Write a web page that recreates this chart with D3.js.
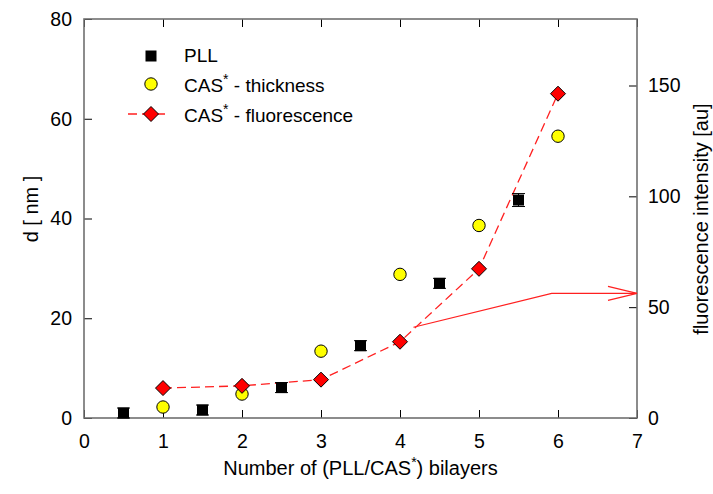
<!DOCTYPE html>
<html>
<head>
<meta charset="utf-8">
<script src="https://cdn.jsdelivr.net/npm/d3@7"></script>
<style>
  body { margin: 0; background: #fff; }
  text { font-family: "Liberation Sans", Arial, sans-serif; fill: #000; }
</style>
</head>
<body>
<svg id="chart" width="713" height="494"></svg>
<script>
// PLL layer thickness (left axis)
const pllX = [0.5, 1.5, 2.5, 3.5, 4.5, 5.5];
const pllD = [1.0, 1.6, 6.1, 14.5, 27.0, 43.7];
const pllErr = [1.0, 1.0, 1.0, 1.0, 1.0, 1.3];

// CAS* thickness (left axis)
const casX = [1, 2, 3, 4, 5, 6];
const casD = [2.2, 4.8, 13.4, 28.8, 38.6, 56.5];

// CAS* fluorescence (right axis)
const fluoX = [1, 2, 3, 4, 5, 6];
const fluoI = [13.5, 14.5, 17.3, 34.4, 67.3, 146.3];

const xTicks = [0, 1, 2, 3, 4, 5, 6, 7];
const yTicks = [0, 20, 40, 60, 80];
const y2Ticks = [0, 50, 100, 150];

// arrow annotation, in data units (x, d)
const arrowPts = [[4.17, 18.2], [5.92, 25], [7, 25]];

const svg = d3.select('#chart');
const margin = { left: 84, right: 76, top: 19, bottom: 76 };
const width = +svg.attr('width');
const height = +svg.attr('height');
const innerW = width - margin.left - margin.right;
const innerH = height - margin.top - margin.bottom;

const x = d3.scaleLinear().domain([0, 7]).range([0, innerW]);
const y = d3.scaleLinear().domain([0, 80]).range([innerH, 0]);
const y2 = d3.scaleLinear().domain([0, 180]).range([innerH, 0]);

const g = svg.append('g')
  .attr('transform', `translate(${margin.left},${margin.top})`);

// axes, ticks pointing inward
const tickFont = 19.5;
const titleFont = 20;
const legendFont = 19;
function styleAxis(sel) {
  sel.select('.domain').remove();
  sel.selectAll('.tick line').attr('stroke', '#000');
  sel.selectAll('text')
    .style('font-size', tickFont + 'px')
    .style('font-family', '"Liberation Sans", Arial, sans-serif')
    .attr('fill', '#000');
}

g.append('g')
  .attr('transform', `translate(0,${innerH})`)
  .call(d3.axisBottom(x).tickValues(xTicks).tickSize(-8).tickPadding(16).tickFormat(d3.format('d')))
  .call(styleAxis);

g.append('g')
  .call(d3.axisTop(x).tickValues(xTicks).tickSize(-8).tickFormat(''))
  .call(styleAxis);

g.append('g')
  .call(d3.axisLeft(y).tickValues(yTicks).tickSize(-8).tickPadding(12))
  .call(styleAxis);

g.append('g')
  .attr('transform', `translate(${innerW},0)`)
  .call(d3.axisRight(y2).tickValues(y2Ticks).tickSize(-8).tickPadding(11))
  .call(styleAxis);

// frame
g.append('rect')
  .attr('width', innerW)
  .attr('height', innerH)
  .attr('fill', 'none')
  .attr('stroke', '#707070')
  .attr('stroke-width', 1.6);

// axis titles
svg.append('text')
  .attr('transform', `translate(31,209) rotate(-90)`)
  .attr('text-anchor', 'middle')
  .attr('dominant-baseline', 'central')
  .style('font-size', titleFont + 'px')
  .text('d [ nm ]');

svg.append('text')
  .attr('transform', `translate(701,219) rotate(-90)`)
  .attr('text-anchor', 'middle')
  .attr('dominant-baseline', 'central')
  .style('font-size', titleFont + 'px')
  .text('fluorescence intensity [au]');

function supText(sel, before, after) {
  sel.append('tspan').text(before);
  sel.append('tspan').attr('dy', -8).style('font-size', '14px').text('*');
  sel.append('tspan').attr('dy', 8).text(after);
}

const xTitle = svg.append('text')
  .attr('x', margin.left + innerW / 2)
  .attr('y', 475)
  .attr('text-anchor', 'middle')
  .style('font-size', titleFont + 'px');
supText(xTitle, 'Number of (PLL/CAS', ') bilayers');

// fluorescence dashed line
const fluoData = fluoX.map((d, i) => ({ x: d, v: fluoI[i] }));
g.append('path')
  .datum(fluoData)
  .attr('fill', 'none')
  .attr('stroke', '#ff2020')
  .attr('stroke-width', 1.3)
  .attr('stroke-dasharray', '9,5')
  .attr('d', d3.line().x(d => x(d.x)).y(d => y2(d.v)));

// arrow annotation
const arrowXY = arrowPts.map(p => [x(p[0]), y(p[1])]);
g.append('path')
  .attr('fill', 'none')
  .attr('stroke', '#ff2020')
  .attr('stroke-width', 1.2)
  .attr('d', d3.line()(arrowXY));
const tip = arrowXY[arrowXY.length - 1];
g.append('path')
  .attr('fill', 'none')
  .attr('stroke', '#ff2020')
  .attr('stroke-width', 1.2)
  .attr('d', d3.line()([[tip[0] - 29, tip[1] - 7], tip, [tip[0] - 29, tip[1] + 7]]));

// PLL squares with error bars
const pllData = pllX.map((d, i) => ({ x: d, v: pllD[i], e: pllErr[i] }));
const pll = g.append('g').selectAll('g').data(pllData).join('g');
pll.append('line')
  .attr('x1', d => x(d.x)).attr('x2', d => x(d.x))
  .attr('y1', d => y(d.v - d.e)).attr('y2', d => y(d.v + d.e))
  .attr('stroke', '#000');
pll.selectAll('.cap').data(d => [[d.x, d.v - d.e], [d.x, d.v + d.e]]).join('line')
  .attr('class', 'cap')
  .attr('x1', d => x(d[0]) - 6.5).attr('x2', d => x(d[0]) + 6.5)
  .attr('y1', d => y(d[1])).attr('y2', d => y(d[1]))
  .attr('stroke', '#000');
pll.append('rect')
  .attr('x', d => x(d.x) - 5.5).attr('y', d => y(d.v) - 5.5)
  .attr('width', 11).attr('height', 11)
  .attr('fill', '#000');

// CAS* thickness circles
g.append('g').selectAll('circle')
  .data(casX.map((d, i) => ({ x: d, v: casD[i] })))
  .join('circle')
  .attr('cx', d => x(d.x)).attr('cy', d => y(d.v))
  .attr('r', 6.2)
  .attr('fill', '#ffff00')
  .attr('stroke', '#000')
  .attr('stroke-width', 1);

// fluorescence diamonds
const diamond = 'M0,-7.5L7.5,0L0,7.5L-7.5,0Z';
g.append('g').selectAll('path')
  .data(fluoData)
  .join('path')
  .attr('transform', d => `translate(${x(d.x)},${y2(d.v)})`)
  .attr('d', diamond)
  .attr('fill', '#ff0000')
  .attr('stroke', '#000')
  .attr('stroke-width', 1);

// legend
const legend = svg.append('g');
const lx = 151;
legend.append('rect')
  .attr('x', lx - 5.5).attr('y', 56 - 5.5).attr('width', 11).attr('height', 11)
  .attr('fill', '#000');
legend.append('circle')
  .attr('cx', lx).attr('cy', 84).attr('r', 6.2)
  .attr('fill', '#ffff00').attr('stroke', '#000');
legend.append('line')
  .attr('x1', lx - 23).attr('x2', lx + 17)
  .attr('y1', 114).attr('y2', 114)
  .attr('stroke', '#ff2020').attr('stroke-width', 1.3)
  .attr('stroke-dasharray', '9,5');
legend.append('path')
  .attr('transform', `translate(${lx},114)`)
  .attr('d', diamond)
  .attr('fill', '#ff0000').attr('stroke', '#000');

const tx = 184;
legend.append('text').attr('x', tx).attr('y', 62).style('font-size', legendFont + 'px').text('PLL');
supText(legend.append('text').attr('x', tx).attr('y', 92).style('font-size', legendFont + 'px'), 'CAS', ' - thickness');
supText(legend.append('text').attr('x', tx).attr('y', 122).style('font-size', legendFont + 'px'), 'CAS', ' - fluorescence');
</script>
</body>
</html>
